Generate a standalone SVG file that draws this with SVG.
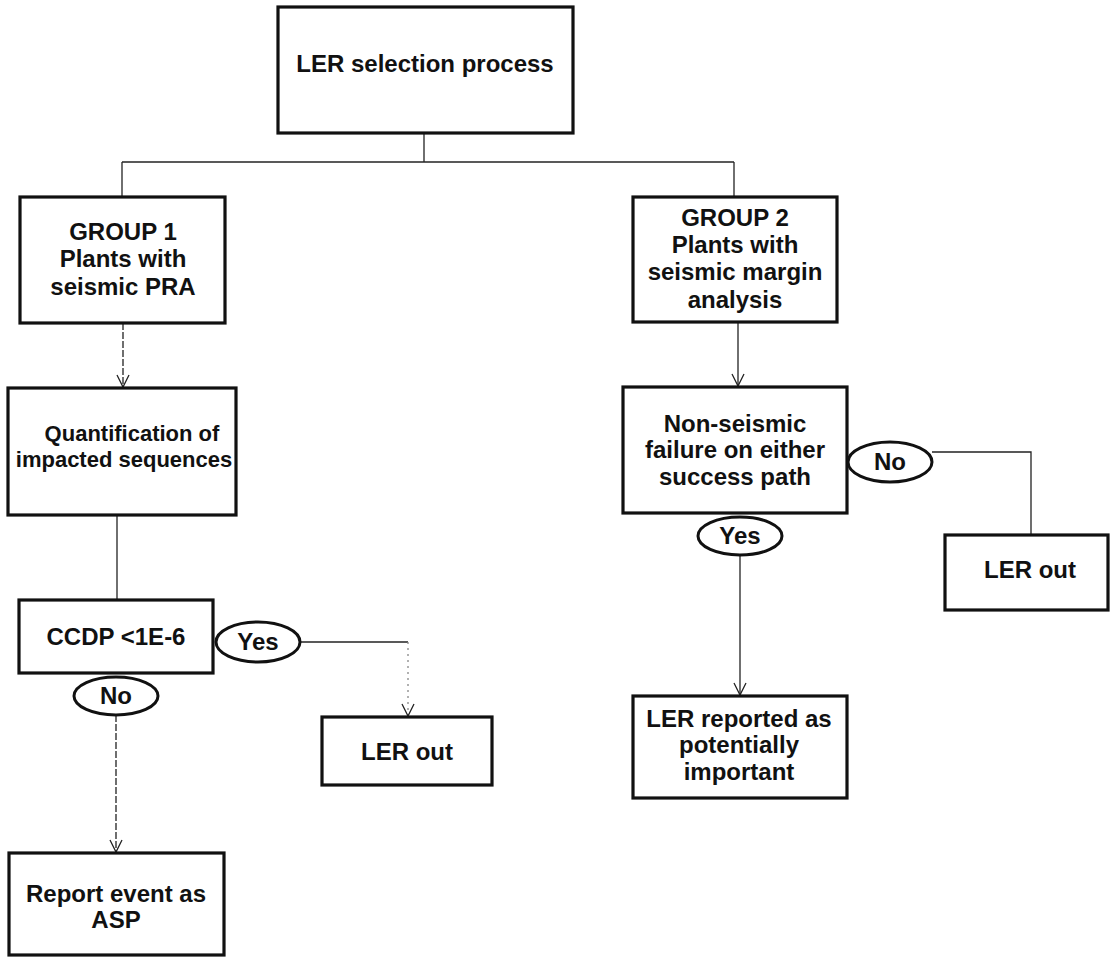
<svg xmlns="http://www.w3.org/2000/svg" width="1111" height="957" viewBox="0 0 1111 957">
  <style>
    .box { fill: #ffffff; stroke: #111111; stroke-width: 3.2; }
    .oval { fill: #ffffff; stroke: #111111; stroke-width: 3; }
    .lbl { font-family: "Liberation Sans", Arial, sans-serif; font-weight: bold; font-size: 24px; fill: #111111; text-anchor: middle; }
    .small { font-size: 22px; }
    .wire { fill: none; stroke: #222222; stroke-width: 1.3; }
    .broken { stroke-dasharray: 7 2; }
    .faint { stroke: #888888; stroke-dasharray: 2 4; }
  </style>
  <defs>
    <marker id="vee" viewBox="0 0 12 12" refX="12" refY="6" markerWidth="12" markerHeight="12" markerUnits="userSpaceOnUse" orient="auto" overflow="visible">
      <path d="M0,0 L12,6 L0,12" fill="none" stroke="#222222" stroke-width="1.3"/>
    </marker>
  </defs>
  <rect width="1111" height="957" fill="#ffffff"/>

  <!-- connectors -->
  <g id="connectors">
    <path class="wire" d="M424 133 V162"/>
    <path class="wire" d="M122 162 H734"/>
    <path class="wire" d="M122 162 V197"/>
    <path class="wire" d="M734 162 V197"/>
    <path class="wire broken" d="M123 323 V387" marker-end="url(#vee)"/>
    <path class="wire" d="M117 515 V600"/>
    <path class="wire" d="M300 642 H408"/>
    <path class="wire faint" d="M408 642 V716" marker-end="url(#vee)"/>
    <path class="wire broken" d="M116 715 V852" marker-end="url(#vee)"/>
    <path class="wire" d="M738 322 V386" marker-end="url(#vee)"/>
    <path class="wire" d="M932 452 H1031 V535"/>
    <path class="wire" d="M740 555 V695" marker-end="url(#vee)"/>
  </g>

  <!-- process boxes -->
  <g id="ler-selection">
    <rect class="box" x="278" y="7" width="295" height="126"/>
    <text class="lbl" x="425" y="72">LER selection process</text>
  </g>

  <g id="group1">
    <rect class="box" x="20" y="197" width="205" height="126"/>
    <text class="lbl" x="123" y="240">GROUP 1</text>
    <text class="lbl" x="123" y="267">Plants with</text>
    <text class="lbl" x="123" y="295">seismic PRA</text>
  </g>

  <g id="quantification">
    <rect class="box" x="8" y="388" width="228" height="127"/>
    <text class="lbl small" x="132" y="441">Quantification of</text>
    <text class="lbl small" x="124" y="467">impacted sequences</text>
  </g>

  <g id="ccdp">
    <rect class="box" x="19" y="600" width="194" height="73"/>
    <text class="lbl" x="116" y="645">CCDP &lt;1E-6</text>
  </g>

  <g id="yes-left">
    <ellipse class="oval" cx="258" cy="642" rx="42" ry="20"/>
    <text class="lbl" x="258" y="650">Yes</text>
  </g>

  <g id="no-left">
    <ellipse class="oval" cx="116" cy="696" rx="42" ry="19"/>
    <text class="lbl" x="116" y="704">No</text>
  </g>

  <g id="ler-out-left">
    <rect class="box" x="322" y="717" width="170" height="68"/>
    <text class="lbl" x="407" y="760">LER out</text>
  </g>

  <g id="report-asp">
    <rect class="box" x="9" y="853" width="215" height="102"/>
    <text class="lbl" x="116" y="902">Report event as</text>
    <text class="lbl" x="116" y="928">ASP</text>
  </g>

  <g id="group2">
    <rect class="box" x="633" y="197" width="204" height="125"/>
    <text class="lbl" x="735" y="226">GROUP 2</text>
    <text class="lbl" x="735" y="253">Plants with</text>
    <text class="lbl" x="735" y="280">seismic margin</text>
    <text class="lbl" x="735" y="308">analysis</text>
  </g>

  <g id="non-seismic">
    <rect class="box" x="623" y="387" width="224" height="126"/>
    <text class="lbl" x="735" y="432">Non-seismic</text>
    <text class="lbl" x="735" y="458">failure on either</text>
    <text class="lbl" x="735" y="485">success path</text>
  </g>

  <g id="no-right">
    <ellipse class="oval" cx="890" cy="462" rx="42" ry="20"/>
    <text class="lbl" x="890" y="470">No</text>
  </g>

  <g id="ler-out-right">
    <rect class="box" x="945" y="535" width="163" height="75"/>
    <text class="lbl" x="1030" y="578">LER out</text>
  </g>

  <g id="yes-right">
    <ellipse class="oval" cx="740" cy="536" rx="42" ry="19"/>
    <text class="lbl" x="740" y="544">Yes</text>
  </g>

  <g id="ler-reported">
    <rect class="box" x="633" y="696" width="214" height="102"/>
    <text class="lbl" x="739" y="727">LER reported as</text>
    <text class="lbl" x="739" y="753">potentially</text>
    <text class="lbl" x="739" y="780">important</text>
  </g>
</svg>
